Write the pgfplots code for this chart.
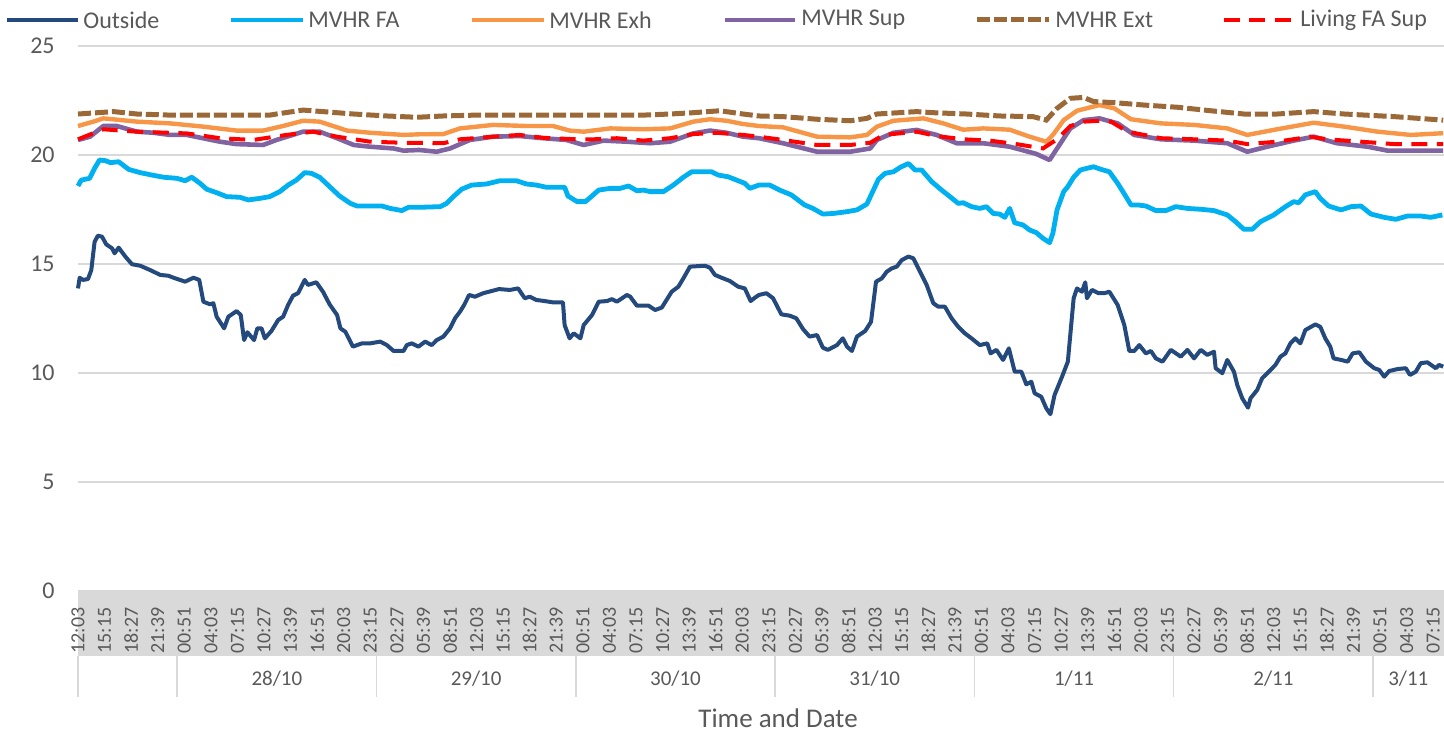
\documentclass[border=0pt]{standalone}
\usepackage{fontspec}
\setmainfont{Carlito}
\usepackage{pgfplots}
\pgfplotsset{compat=1.18}

\definecolor{cOut}{HTML}{23497D}
\definecolor{cFA}{HTML}{00B0F0}
\definecolor{cExh}{HTML}{F79646}
\definecolor{cSup}{HTML}{8064A2}
\definecolor{cExt}{HTML}{9B6937}
\definecolor{cLiv}{HTML}{FF0000}
\definecolor{gridgray}{HTML}{D9D9D9}
\definecolor{txt}{HTML}{595959}

\tikzset{
  sOut/.style={cOut, line width=2pt, line join=round},
  sFA/.style={cFA, line width=2.4pt, line join=round},
  sExh/.style={cExh, line width=2.2pt, line join=round},
  sSup/.style={cSup, line width=2.3pt, line join=round},
  sExt/.style={cExt, line width=2.5pt, dash pattern=on 6.5pt off 2pt},
  sLiv/.style={cLiv, line width=2pt, dash pattern=on 8pt off 4.8pt},
}
\newcommand\fs[1]{\fontsize{#1}{#1}\selectfont}

\begin{document}
\begin{tikzpicture}
  % grey band behind the time labels
  \fill[gridgray] (0pt,0pt) rectangle (683pt,-32.5pt);

  \begin{axis}[
      scale only axis,
      width=683pt, height=272.5pt,
      xmin=0, xmax=164.5,
      ymin=0, ymax=25,
      axis line style={draw=none},
      major tick length=0pt,
      ytick={0,5,...,25},
      ymajorgrids,
      grid style={gridgray, line width=0.75pt},
      xtick={0,3.2,...,164},
      xticklabels={12:03,15:15,18:27,21:39,00:51,04:03,07:15,10:27,13:39,16:51,20:03,23:15,02:27,05:39,08:51,
                   12:03,15:15,18:27,21:39,00:51,04:03,07:15,10:27,13:39,16:51,20:03,23:15,02:27,05:39,08:51,
                   12:03,15:15,18:27,21:39,00:51,04:03,07:15,10:27,13:39,16:51,20:03,23:15,02:27,05:39,08:51,
                   12:03,15:15,18:27,21:39,00:51,04:03,07:15},
      xticklabel style={rotate=90, anchor=east, inner sep=0pt, font=\fs{10}, text=txt},
      xticklabel shift=8pt,
      yticklabel style={anchor=east, inner sep=0pt, font=\fs{12}, text=txt},
      yticklabel shift=11.5pt,
      /pgf/number format/assume math mode=true,
      clip=false,
    ]

    % Outside
    \addplot[sOut] coordinates {
      (0,13.88) (0.2,14.37) (0.6,14.27) (1.2,14.31) (1.6,14.72) (2.0,16.02) (2.4,16.3) (2.9,16.25)
      (3.4,15.9) (4.1,15.72) (4.4,15.49) (4.9,15.75) (5.7,15.34) (6.5,14.99) (7.5,14.92) (8.7,14.72)
      (9.9,14.5) (10.9,14.46) (11.5,14.37) (12.9,14.19) (13.9,14.37) (14.6,14.27) (15.1,13.27) (15.9,13.15)
      (16.3,13.2) (16.7,12.58) (17.6,12.05) (18.1,12.58) (19.1,12.84) (19.6,12.66) (20.0,11.51) (20.4,11.87)
      (21.2,11.51) (21.6,12.05) (22.1,12.05) (22.5,11.59) (23.3,11.93) (24.1,12.43) (24.7,12.58) (25.3,13.12)
      (25.9,13.55) (26.5,13.66) (27.3,14.27) (27.7,14.04) (28.7,14.16) (29.5,13.73) (30.3,13.15) (31.2,12.66)
      (31.6,12.05) (32.2,11.89) (33.1,11.21) (34.2,11.36) (35.2,11.36) (36.4,11.44) (37.2,11.28) (38.0,11.01)
      (39.2,11.01) (39.6,11.28) (40.2,11.36) (41.0,11.21) (41.8,11.44) (42.6,11.28) (43.2,11.51) (44.0,11.67)
      (44.8,12.05) (45.4,12.51) (46.0,12.81) (46.5,13.12) (47.1,13.58) (47.8,13.5) (48.8,13.66) (49.8,13.76)
      (50.7,13.85) (52.0,13.81) (53.0,13.88) (53.8,13.43) (54.4,13.5) (55.2,13.35) (56.2,13.3) (57.2,13.24)
      (58.4,13.24) (58.6,12.2) (59.2,11.59) (59.7,11.82) (60.5,11.59) (60.9,12.2) (61.9,12.66) (62.7,13.27)
      (63.7,13.3) (64.3,13.39) (64.9,13.27) (66.1,13.58) (66.5,13.5) (67.3,13.09) (68.7,13.09) (69.5,12.89)
      (70.3,13.0) (71.5,13.73) (72.3,13.96) (72.9,14.34) (73.7,14.88) (75.5,14.92) (76.1,14.83) (76.7,14.5)
      (77.5,14.37) (78.5,14.22) (79.5,13.96) (80.3,13.88) (81.0,13.3) (81.5,13.45) (82.0,13.58) (82.9,13.66)
      (83.7,13.43) (84.7,12.69) (85.7,12.63) (86.5,12.51) (87.3,12.02) (88.1,11.67) (89.0,11.74) (89.7,11.16)
      (90.3,11.06) (91.4,11.28) (92.1,11.59) (92.6,11.21) (93.2,11.01) (93.8,11.67) (94.8,11.93) (95.5,12.35)
      (96.1,14.19) (96.8,14.34) (97.4,14.65) (98.0,14.8) (98.6,14.88) (99.2,15.18) (100.0,15.34) (100.6,15.26)
      (101.4,14.65) (102.2,14.04) (103.0,13.2) (103.6,13.04) (104.4,13.04) (105.2,12.51) (106.0,12.12) (106.8,11.82)
      (107.6,11.59) (108.6,11.28) (109.5,11.36) (109.9,10.9) (110.6,11.06) (111.4,10.6) (112.1,11.13) (112.8,10.06)
      (113.6,10.06) (114.2,9.48) (114.8,9.6) (115.2,9.07) (116.0,8.91) (116.6,8.38) (117.1,8.11) (117.6,8.99)
      (118.5,9.83) (119.2,10.52) (119.9,13.43) (120.3,13.88) (120.9,13.73) (121.3,14.16) (121.5,13.43) (122.1,13.81)
      (122.9,13.66) (123.6,13.66) (124.2,13.73) (125.2,13.12) (126.0,12.2) (126.6,11.01) (127.2,11.01) (127.8,11.28)
      (128.6,10.9) (129.2,11.01) (129.8,10.67) (130.6,10.52) (131.6,11.06) (132.8,10.75) (133.6,11.06) (134.4,10.67)
      (135.2,11.06) (136.0,10.83) (136.8,10.98) (137.0,10.22) (137.8,9.99) (138.4,10.6) (139.2,10.06) (139.6,9.45)
      (140.2,8.84) (140.9,8.41) (141.2,8.84) (142.0,9.22) (142.6,9.76) (143.4,10.06) (144.2,10.37) (144.8,10.75)
      (145.4,10.9) (146.0,11.36) (146.6,11.59) (147.2,11.36) (147.8,11.97) (149.0,12.23) (149.6,12.12) (150.2,11.59)
      (150.8,11.21) (151.2,10.67) (152.1,10.6) (152.9,10.52) (153.5,10.9) (154.3,10.95) (155.1,10.52) (156.1,10.22)
      (156.7,10.14) (157.3,9.83) (157.9,10.09) (158.9,10.18) (159.9,10.22) (160.4,9.91) (161.1,10.06) (161.7,10.45)
      (162.5,10.49) (163.5,10.22) (163.9,10.37) (164.4,10.29)
    };

    % MVHR FA
    \addplot[sFA] coordinates {
      (0,18.58) (0.4,18.85) (1.4,18.93) (2.0,19.39) (2.6,19.77) (3.3,19.74) (3.9,19.65) (4.9,19.69)
      (6.1,19.34) (7.5,19.19) (8.9,19.08) (10.3,18.98) (11.9,18.93) (12.9,18.82) (13.7,18.98) (14.7,18.70)
      (15.5,18.43) (16.7,18.27) (17.9,18.09) (19.5,18.06) (20.5,17.94) (21.9,18.01) (23.1,18.09) (24.3,18.32)
      (25.3,18.62) (26.3,18.85) (27.3,19.19) (28.1,19.16) (29.1,18.98) (30.3,18.55) (31.5,18.12) (32.8,17.78)
      (33.6,17.66) (35.2,17.66) (36.6,17.66) (37.6,17.55) (39.0,17.45) (39.8,17.6) (41.1,17.6) (43.6,17.63)
      (44.4,17.78) (45.2,18.09) (46.2,18.43) (47.4,18.62) (49.2,18.67) (50.8,18.82) (52.8,18.82) (54.0,18.67)
      (55.2,18.62) (56.4,18.52) (58.6,18.52) (59.0,18.12) (60.1,17.86) (61.1,17.86) (61.9,18.12) (62.7,18.39)
      (64.1,18.47) (65.3,18.47) (66.3,18.58) (67.3,18.36) (68.1,18.39) (68.9,18.32) (70.5,18.32) (71.7,18.62)
      (72.9,18.98) (73.9,19.23) (75.3,19.23) (76.3,19.23) (77.1,19.08) (78.3,19.0) (79.5,18.82) (80.3,18.7)
      (80.9,18.47) (82.0,18.62) (83.3,18.62) (84.5,18.39) (85.9,18.17) (87.5,17.71) (88.5,17.55) (89.7,17.29)
      (91.0,17.32) (92.6,17.4) (93.8,17.48) (95.0,17.75) (95.6,18.24) (96.4,18.89) (97.2,19.16) (98.2,19.23)
      (99.0,19.43) (100.0,19.61) (100.8,19.31) (101.6,19.31) (102.8,18.78) (104.0,18.39) (105.0,18.09) (106.0,17.78)
      (106.6,17.81) (107.6,17.63) (108.6,17.55) (109.4,17.63) (110.2,17.32) (111.0,17.29) (111.6,17.14) (112.2,17.55)
      (112.8,16.89) (113.8,16.79) (114.6,16.56) (115.4,16.44) (116.2,16.18) (117.0,15.98) (117.4,16.41) (117.9,17.48)
      (118.7,18.32) (119.2,18.55) (119.9,18.98) (120.7,19.31) (121.5,19.39) (122.3,19.46) (123.2,19.34) (124.2,19.23)
      (125.2,18.7) (126.2,18.09) (126.8,17.71) (127.6,17.71) (128.6,17.66) (129.8,17.45) (131.0,17.45) (132.2,17.63)
      (133.6,17.55) (135.2,17.51) (136.8,17.45) (138.4,17.25) (139.4,16.94) (140.4,16.59) (141.4,16.59) (142.4,16.94)
      (144.0,17.25) (145.4,17.63) (146.4,17.86) (147.0,17.81) (147.8,18.17) (149.0,18.32) (149.6,18.01) (150.6,17.66)
      (152.1,17.48) (153.3,17.63) (154.5,17.66) (155.7,17.29) (157.3,17.14) (158.7,17.05) (160.1,17.2) (161.7,17.2)
      (162.9,17.14) (164.3,17.25)
    };

    % MVHR Exh
    \addplot[sExh] coordinates {
      (0,21.33) (1.85,21.53) (3.05,21.68) (7.1,21.53) (11.1,21.45) (15.1,21.3) (19.1,21.12) (22.3,21.12)
      (24.7,21.33) (27.1,21.57) (29.1,21.53) (32.4,21.12) (35.2,21.02) (39.2,20.92) (41.1,20.95) (44.0,20.96)
      (46.0,21.22) (50.0,21.38) (54.0,21.33) (57.2,21.33) (59.2,21.12) (60.9,21.07) (64.1,21.22) (68.1,21.18)
      (71.3,21.22) (74.1,21.53) (76.1,21.64) (78.1,21.57) (80.1,21.42) (82.0,21.33) (84.9,21.27) (89.0,20.84)
      (93.0,20.81) (95.0,20.92) (96.2,21.3) (98.2,21.57) (101.8,21.68) (104.2,21.45) (106.6,21.16) (109.0,21.22)
      (112.2,21.16) (114.6,20.84) (116.6,20.61) (117.4,20.92) (118.7,21.6) (120.3,22.03) (123.0,22.29) (124.8,22.14)
      (126.8,21.64) (130.4,21.45) (134.4,21.38) (138.4,21.22) (140.8,20.92) (144.4,21.18) (148.8,21.48) (152.5,21.3)
      (156.5,21.07) (160.5,20.92) (164.4,21.0)
    };

    % MVHR Sup
    \addplot[sSup] coordinates {
      (0,20.69) (1.45,20.84) (3.05,21.33) (4.66,21.33) (7.1,21.07) (9.1,21.02) (11.1,20.92) (13.1,20.92)
      (17.1,20.61) (19.1,20.5) (22.3,20.46) (23.9,20.69) (27.1,21.07) (29.1,21.07) (31.2,20.77) (33.2,20.46)
      (35.2,20.38) (38.0,20.3) (39.2,20.2) (41.1,20.23) (43.2,20.15) (44.8,20.3) (47.2,20.69) (50.0,20.84)
      (53.2,20.87) (56.0,20.77) (58.8,20.69) (60.9,20.46) (63.3,20.66) (66.1,20.61) (68.9,20.54) (71.3,20.61)
      (74.1,20.99) (76.1,21.12) (78.1,21.02) (80.1,20.84) (82.0,20.77) (84.9,20.54) (89.0,20.15) (93.0,20.15)
      (95.4,20.3) (96.2,20.69) (98.2,21.02) (101.0,21.15) (103.4,20.92) (105.8,20.54) (109.0,20.54) (112.2,20.38)
      (115.4,20.05) (117.0,19.77) (117.9,20.3) (119.5,21.22) (121.1,21.6) (123.0,21.68) (125.2,21.45) (127.2,20.92)
      (130.4,20.72) (134.4,20.66) (138.4,20.54) (140.8,20.15) (143.2,20.38) (146.4,20.66) (148.8,20.84) (151.6,20.54)
      (155.3,20.38) (157.7,20.2) (164.4,20.2)
    };

    % MVHR Ext
    \addplot[sExt] coordinates {
      (0,21.88) (4.3,21.99) (7.1,21.88) (11.1,21.83) (17.1,21.83) (23.1,21.83) (23.9,21.88) (27.1,22.06)
      (29.5,21.99) (33.2,21.88) (37.2,21.79) (40.8,21.73) (44.0,21.79) (48.0,21.83) (56.0,21.83) (64.1,21.83)
      (68.1,21.83) (71.3,21.88) (74.1,21.94) (77.3,22.03) (80.1,21.88) (82.0,21.79) (84.9,21.76) (89.0,21.64)
      (93.0,21.57) (95.0,21.68) (96.2,21.88) (101.0,21.99) (103.0,21.94) (107.0,21.88) (111.0,21.79) (115.0,21.76)
      (116.6,21.6) (117.9,22.14) (119.5,22.6) (121.1,22.64) (122.3,22.45) (124.8,22.4) (128.4,22.29) (132.4,22.19)
      (136.4,22.03) (140.4,21.88) (144.4,21.88) (148.8,21.99) (152.5,21.88) (158.5,21.76) (164.4,21.6)
    };

    % Living FA Sup
    \addplot[sLiv] coordinates {
      (0,20.72) (3.05,21.18) (7.1,21.07) (13.1,20.99) (17.1,20.77) (21.1,20.69) (25.1,20.92) (28.3,21.07)
      (31.2,20.84) (35.2,20.61) (39.2,20.56) (41.1,20.56) (44.0,20.54) (46.0,20.72) (50.0,20.84) (53.2,20.92)
      (56.0,20.79) (60.0,20.72) (62.1,20.72) (64.9,20.77) (68.1,20.66) (71.3,20.77) (74.1,20.96) (76.9,21.02)
      (80.1,20.92) (82.0,20.84) (84.9,20.69) (89.0,20.46) (93.0,20.46) (95.4,20.56) (97.0,20.92) (101.0,21.07)
      (103.4,20.87) (106.6,20.72) (109.8,20.66) (113.0,20.5) (116.2,20.3) (117.9,20.72) (119.5,21.33) (121.1,21.53)
      (123.0,21.57) (124.4,21.53) (126.4,21.07) (130.4,20.77) (134.4,20.72) (138.4,20.66) (140.8,20.5) (144.4,20.61)
      (148.4,20.84) (150.4,20.72) (154.5,20.61) (158.5,20.5) (164.4,20.5)
    };

    % day separators and day labels
    \pgfplotsinvokeforeach{0,11.95,35.95,59.95,83.95,107.95,131.95,155.95}{
      \draw[gridgray, line width=0.75pt] ([yshift=-32.5pt]axis cs:#1,0) -- ([yshift=-53pt]axis cs:#1,0);
    }
    \node[text=txt, font=\fs{10.5}] at ([yshift=-44pt]axis cs:23.95,0) {28/10};
    \node[text=txt, font=\fs{10.5}] at ([yshift=-44pt]axis cs:47.95,0) {29/10};
    \node[text=txt, font=\fs{10.5}] at ([yshift=-44pt]axis cs:71.95,0) {30/10};
    \node[text=txt, font=\fs{10.5}] at ([yshift=-44pt]axis cs:95.95,0) {31/10};
    \node[text=txt, font=\fs{10.5}] at ([yshift=-44pt]axis cs:119.95,0) {1/11};
    \node[text=txt, font=\fs{10.5}] at ([yshift=-44pt]axis cs:143.95,0) {2/11};
    \node[text=txt, font=\fs{10.5}] at ([yshift=-44pt]axis cs:160.2,0) {3/11};
    \node[text=txt, font=\fs{13.5}] at ([yshift=-63.5pt]axis cs:84.3,0) {Time and Date};
  \end{axis}

  % legend
  \begin{scope}[every node/.style={anchor=west, inner sep=0pt, text=txt, font=\fs{12}}]
    \draw[sOut] (-35.5pt,285.5pt) -- (0pt,285.5pt);     \node at (2.5pt,285.5pt) {Outside};
    \draw[sFA]  (76.5pt,285.5pt) -- (112.5pt,285.5pt);  \node at (115pt,285.5pt) {MVHR FA};
    \draw[sExh] (197pt,285.5pt) -- (233pt,285.5pt);     \node at (235.5pt,285.5pt) {MVHR Exh};
    \draw[sSup] (323.5pt,285.5pt) -- (358.5pt,285.5pt); \node at (361.5pt,285.5pt) {MVHR Sup};
    \draw[sExt] (449.5pt,285.5pt) -- (485.5pt,285.5pt); \node at (488.5pt,285.5pt) {MVHR Ext};
    \draw[sLiv] (572.75pt,285.5pt) -- (608pt,285.5pt);  \node at (611pt,285.5pt) {Living FA Sup};
  \end{scope}

  \pgfresetboundingbox
  \path[use as bounding box] (-39pt,-71pt) rectangle (683pt,295.5pt);
\end{tikzpicture}
\end{document}
